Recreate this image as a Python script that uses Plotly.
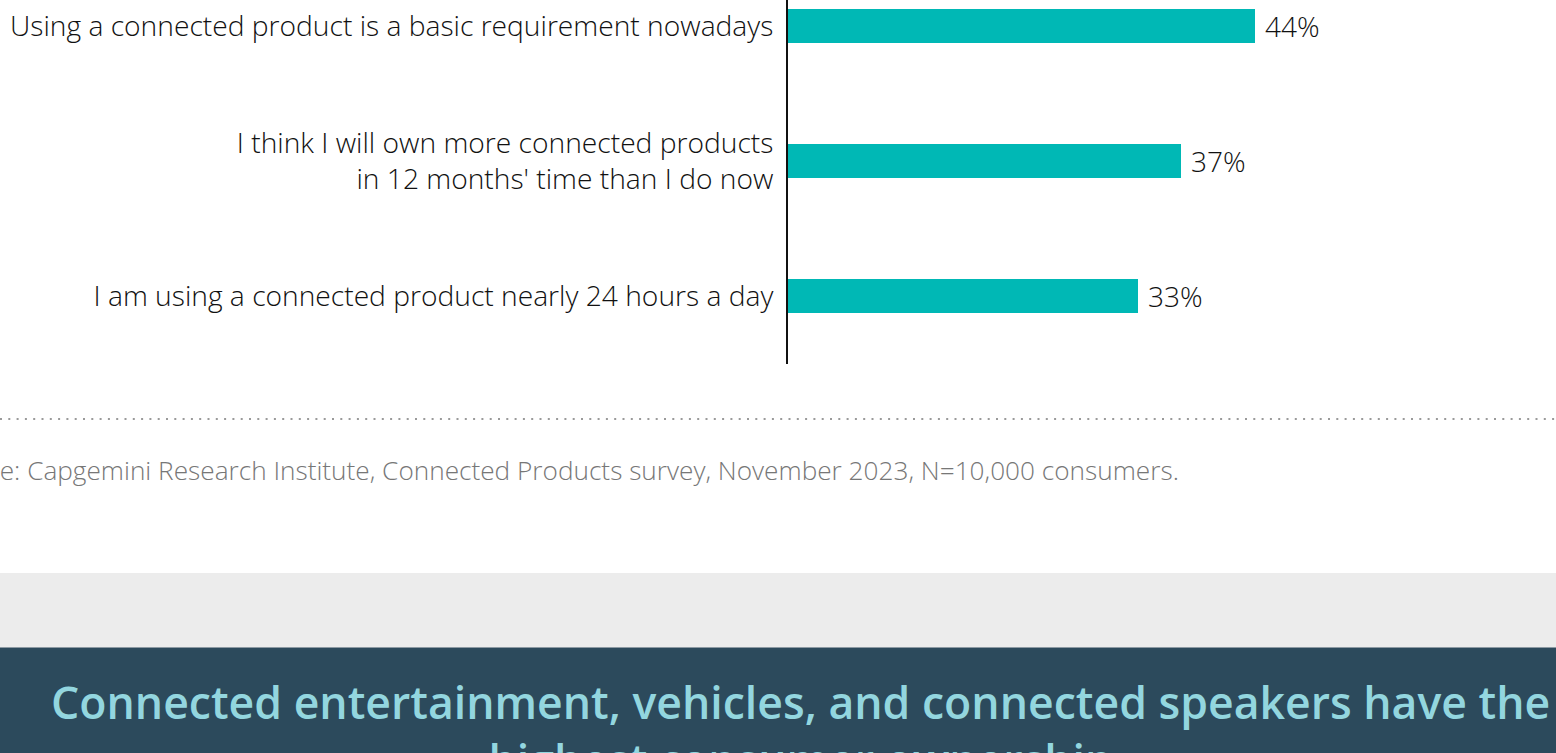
import plotly.graph_objects as go

categories = [
    "Using a connected product is a basic requirement nowadays",
    "I think I will own more connected products<br>in 12 months' time than I do now",
    "I am using a connected product nearly 24 hours a day",
]
values = [44, 37, 33]
value_labels = ["44%", "37%", "33%"]
source_text = "Source: Capgemini Research Institute, Connected Products survey, November 2023, N=10,000 consumers."
banner_text = "Connected entertainment, vehicles, and connected speakers have the<br>highest consumer ownership"

W, H = 1556, 753
BAR_COLOR = "#00b8b5"
LABEL_FONT = "Open Sans"

def py(pix):
    return 1 - pix / H

fig = go.Figure()
fig.add_trace(go.Bar(
    y=categories, x=values, orientation="h",
    marker=dict(color=BAR_COLOR, line=dict(width=0)),
    width=0.252, hoverinfo="skip",
))

for c, v, t in zip(categories, values, value_labels):
    fig.add_annotation(x=v, y=c, xref="x", yref="y", text=t, showarrow=False,
                       xanchor="left", yanchor="middle", xshift=8,
                       font=dict(family=LABEL_FONT, size=28, color="#111111", weight=300))

# dotted separator
fig.add_shape(type="line", xref="paper", yref="paper", x0=0, x1=1, y0=py(419), y1=py(419),
              line=dict(color="#9a9a9a", width=2, dash="2px,6.3px"), layer="below")
# grey band
fig.add_shape(type="rect", xref="paper", yref="paper", x0=0, x1=1, y0=py(647), y1=py(573),
              fillcolor="#ececec", line=dict(width=0), layer="below")
# dark banner
fig.add_shape(type="rect", xref="paper", yref="paper", x0=0, x1=1, y0=0, y1=py(647),
              fillcolor="#2c4a5c", line=dict(width=0), layer="below")
fig.add_shape(type="line", xref="paper", yref="paper", x0=0, x1=1, y0=py(647.5), y1=py(647.5),
              line=dict(color="#8d9aa3", width=1), layer="below")

fig.add_annotation(x=1181 / W, y=py(470), xref="paper", yref="paper", text=source_text,
                   showarrow=False, xanchor="right", yanchor="middle",
                   font=dict(family=LABEL_FONT, size=26.2, color="#777777", weight=300))

fig.add_annotation(x=800 / W, y=py(669), xref="paper", yref="paper", text=banner_text,
                   showarrow=False, xanchor="center", yanchor="top", align="center",
                   font=dict(family=LABEL_FONT, size=44.6, color="#93d6df", weight=600))

fig.update_xaxes(domain=[788 / W, 1], range=[0, (W - 788) / 10.61], visible=False)
fig.update_yaxes(domain=[py(363.5), 1], range=[2.5, -0.1926],
                 showline=True, linecolor="#111111", linewidth=2,
                 ticks="outside", ticklen=7, tickcolor="rgba(0,0,0,0)",
                 showgrid=False, zeroline=False,
                 tickfont=dict(family=LABEL_FONT, size=28.2, color="#111111", weight=300))

fig.update_layout(
    width=W, height=H, margin=dict(l=0, r=0, t=0, b=0),
    paper_bgcolor="white", plot_bgcolor="white", showlegend=False,
    bargap=0,
)
fig.write_html("out.html", config={"displayModeBar": False},
               post_script="document.body.style.margin='0';document.body.style.overflow='hidden';")
